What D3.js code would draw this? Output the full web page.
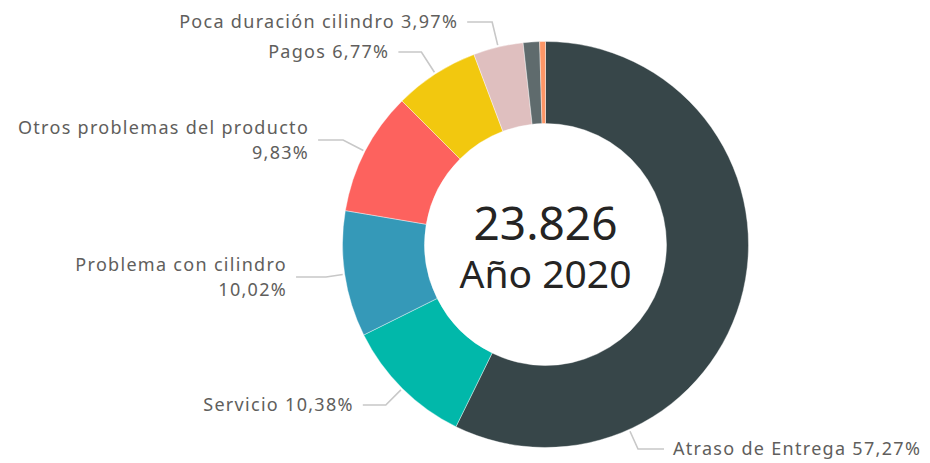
<!DOCTYPE html>
<html>
<head>
<meta charset="utf-8">
<script src="https://cdn.jsdelivr.net/npm/d3@7"></script>
<style>
  html, body { margin: 0; padding: 0; background: #fff; }
  svg { display: block; }
  .lbl { font-family: "Segoe UI", "Noto Sans", "Open Sans", sans-serif; fill: #605E5C; font-size: 18px; letter-spacing: 1.3px; }
  .center { font-family: "Segoe UI", "Noto Sans", "Open Sans", sans-serif; fill: #252423; }
</style>
</head>
<body>
<svg id="chart" width="930" height="463"></svg>
<script>
// Reclamos por motivo, año 2020 (porcentaje del total)
const categories = [
  "Atraso de Entrega",
  "Servicio",
  "Problema con cilindro",
  "Otros problemas del producto",
  "Pagos",
  "Poca duración cilindro",
  "Categoría 7",
  "Categoría 8"
];
const values = [57.27, 10.38, 10.02, 9.83, 6.77, 3.97, 1.30, 0.46];
const colors = ["#374649", "#01B8AA", "#3599B8", "#FD625E", "#F2C80F", "#DFBFBF", "#5F6B6D", "#FE9666"];
const totalLabel = "23.826";
const yearLabel = "Año 2020";

// Label lines for each labelled slice (text lines shown next to the leader)
const labelLines = [
  ["Atraso de Entrega 57,27%"],
  ["Servicio 10,38%"],
  ["Problema con cilindro", "10,02%"],
  ["Otros problemas del producto", "9,83%"],
  ["Pagos 6,77%"],
  ["Poca duración cilindro 3,97%"],
  null,
  null
];

// Leader layout: vertical level of the label, length of the horizontal arm,
// and an optional anchor position inside the slice (0..1, default centre).
const labelLevel = [449, 405, 277, 140, 52, 22, null, null];
const armLength = [26, 23, 30, 25, 23, 25, null, null];
const anchorFraction = [0.755, 0.5, 0.5, 0.5, 0.5, 0.5, null, null];

const W = 930, H = 463;
const cx = 545.5, cy = 244.5;
const rOuter = 203, rInner = 121;

const svg = d3.select("#chart");
const g = svg.append("g").attr("transform", `translate(${cx},${cy})`);

const data = categories.map((c, i) => ({ name: c, value: values[i], color: colors[i], i }));

const pie = d3.pie().value(d => d.value).sort(null);
const arcs = pie(data);
const arc = d3.arc().innerRadius(rInner).outerRadius(rOuter);

g.selectAll("path.slice")
  .data(arcs)
  .join("path")
  .attr("class", "slice")
  .attr("d", arc)
  .attr("fill", d => d.data.color)
  .attr("stroke", "#fff")
  .attr("stroke-width", 0.4);

// Leader lines and labels
const fontSize = 18, lineGap = 25, textGap = 9;
arcs.forEach((a, i) => {
  if (!labelLines[i]) return;
  const f = anchorFraction[i];
  const ang = a.startAngle + (a.endAngle - a.startAngle) * f;
  const dx = Math.sin(ang), dy = -Math.cos(ang);
  const r0 = rOuter + 2;
  const ax = dx * r0, ay = dy * r0;
  const level = labelLevel[i] - cy;
  let t = (level - ay) / dy;
  if (!(t > 4)) t = 4;
  const ex = ax + dx * t, ey = ay + dy * t;
  const side = dx >= 0 ? 1 : -1;
  const hx = ex + side * armLength[i];

  g.append("path")
    .attr("d", d3.line()([[ax, ay], [ex, ey], [hx, level]]))
    .attr("fill", "none")
    .attr("stroke", "#c8c8c8")
    .attr("stroke-width", 1.6);

  const lines = labelLines[i];
  const tx = hx + side * textGap;
  const firstY = level - (lines.length - 1) * lineGap / 2;
  const text = g.append("text")
    .attr("class", "lbl")
    .attr("text-anchor", side > 0 ? "start" : "end");
  lines.forEach((s, k) => {
    text.append("tspan")
      .attr("x", tx)
      .attr("y", firstY + k * lineGap + fontSize * 0.36)
      .text(s);
  });
});

// Centre texts: total and year, in one text block
const centre = g.append("text")
  .attr("class", "center")
  .attr("text-anchor", "middle");
centre.append("tspan")
  .attr("x", 0)
  .attr("y", -5)
  .attr("font-size", 46)
  .text(totalLabel);
centre.append("tspan")
  .attr("x", 0)
  .attr("y", 43)
  .attr("font-size", 39)
  .text(yearLabel);
</script>
</body>
</html>
